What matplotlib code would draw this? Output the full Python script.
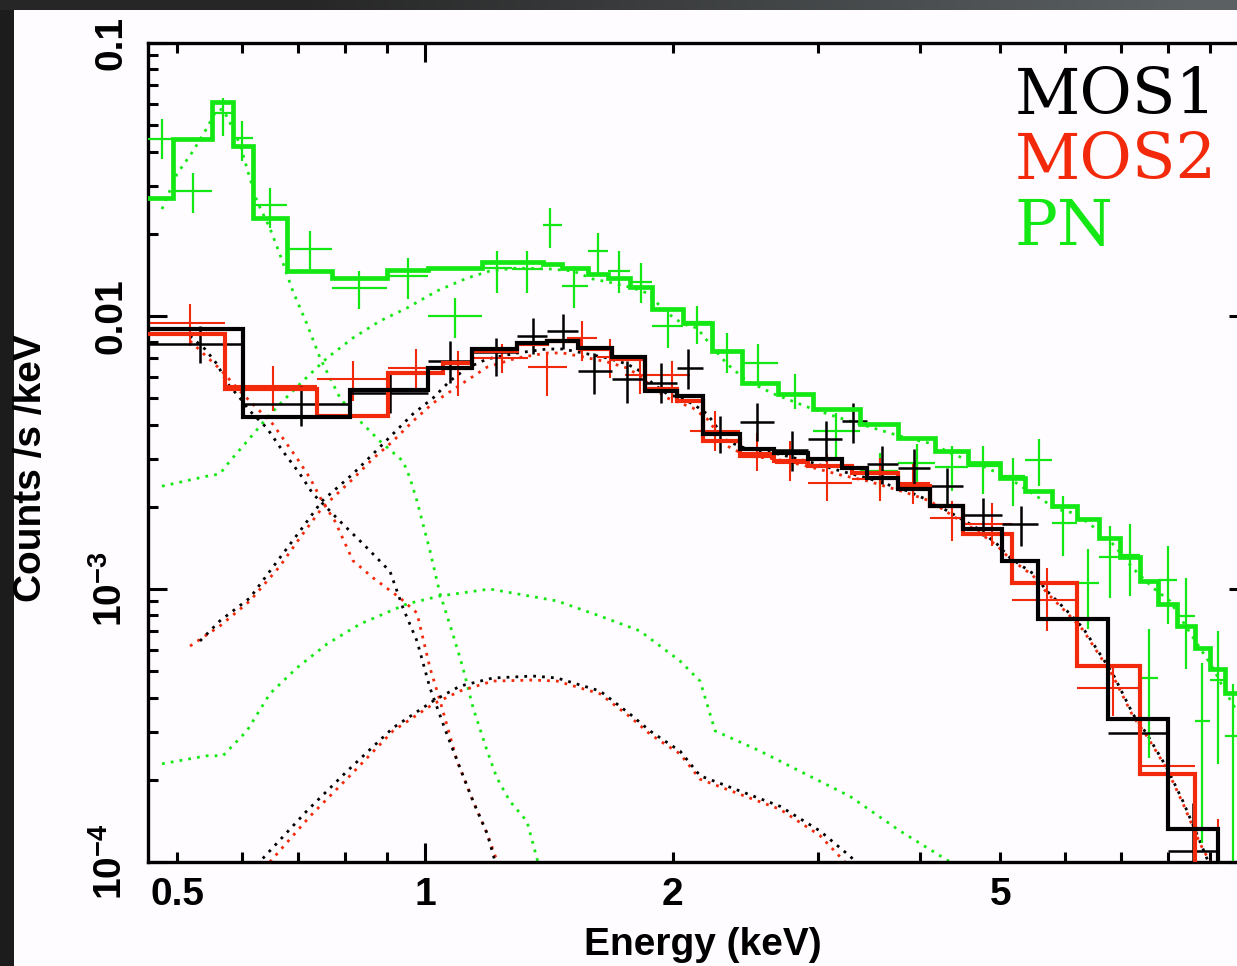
import numpy as np
import matplotlib
matplotlib.use("Agg")
import matplotlib.pyplot as plt
from matplotlib.patches import Rectangle
from matplotlib.ticker import FixedLocator, NullFormatter

plt.rcParams['font.family'] = ['Liberation Sans', 'DejaVu Sans']
plt.rcParams['mathtext.fontset'] = 'custom'
plt.rcParams['mathtext.rm'] = 'Liberation Sans:bold'
plt.rcParams['mathtext.default'] = 'rm'

BLACK = '#000000'
RED = '#f2290b'
GREEN = '#14e814'

# ---------------- MOS1 (black) ----------------
mos1_model_edges = [0.4505, 0.6007, 0.8106, 1.008, 1.141, 1.294, 1.407, 1.534, 1.688, 1.851,
                    2.025, 2.177, 2.414, 2.655, 2.920, 3.211, 3.444, 3.755, 4.108, 4.506,
                    5.025, 5.557, 6.758, 7.993, 9.195, 10.33]
mos1_model = [0.00896, 0.00427, 0.00536, 0.00645, 0.00757, 0.00796, 0.00810, 0.00763, 0.00708,
              0.00531, 0.00509, 0.00370, 0.00326, 0.00315, 0.00300, 0.00277, 0.00255, 0.00232,
              0.00201, 0.00166, 0.00127, 0.000776, 0.000334, 0.000132, 0.0000726]
mos1_elo = [0.4607, 0.6007, 0.8106, 1.008, 1.141, 1.294, 1.407, 1.534, 1.688, 1.851, 2.025, 2.177,
            2.414, 2.655, 2.920, 3.211, 3.444, 3.755, 4.108, 4.506, 5.025, 5.557, 6.758, 7.993]
mos1_ehi = [0.6007, 0.8106, 1.008, 1.141, 1.294, 1.407, 1.534, 1.688, 1.851, 2.025, 2.177, 2.414,
            2.655, 2.920, 3.211, 3.444, 3.755, 4.108, 4.506, 5.025, 5.557, 6.758, 7.993, 9.195]
mos1_e = [0.5328, 0.7067, 0.9067, 1.072, 1.219, 1.353, 1.471, 1.605, 1.760, 1.936, 2.087, 2.283,
          2.532, 2.792, 3.070, 3.312, 3.592, 3.925, 4.309, 4.765, 5.300, 6.181, 7.391, 8.571]
mos1_y = [0.00789, 0.00476, 0.00522, 0.00684, 0.00738, 0.00845, 0.00881, 0.00629, 0.00588, 0.00568,
          0.00645, 0.00370, 0.00409, 0.00323, 0.00354, 0.00412, 0.00287, 0.00277, 0.00238, 0.00187,
          0.00173, 0.000776, 0.000297, 0.000110]
mos1_yhi = [0.00919, 0.00554, 0.00618, 0.00810, 0.00831, 0.00983, 0.01017, 0.00732, 0.00684, 0.00673,
            0.00757, 0.00430, 0.00480, 0.00379, 0.00412, 0.00480, 0.00334, 0.00326, 0.00277, 0.00215,
            0.00201, 0.000904, 0.000379, 0.000164]
mos1_ylo = [0.00673, 0.00396, 0.00441, 0.00568, 0.00603, 0.00726, 0.00757, 0.00518, 0.00480, 0.00480,
            0.00540, 0.00315, 0.00348, 0.00271, 0.00294, 0.00342, 0.00242, 0.00234, 0.00201, 0.00156,
            0.00144, 0.000629, 0.000210, 0.0000726]
mos1_soft_e = [0.5182, 0.5403, 0.5587, 0.5760, 0.5957, 0.6126, 0.6424, 0.6717, 0.7047, 0.7309, 0.7603,
               0.7883, 0.8454, 0.9067, 0.9403, 0.9778, 1.014, 1.063, 1.103, 1.144, 1.190, 1.216, 1.233]
mos1_soft = [0.00845, 0.00757, 0.00667, 0.00564, 0.00501, 0.00449, 0.00389, 0.00320, 0.00264, 0.00223,
             0.00198, 0.00177, 0.00144, 0.00116, 0.000852, 0.000645, 0.000434, 0.000294, 0.000221,
             0.000167, 0.000127, 0.000101, 0.0000859]
mos1_hard_e = [0.5328, 0.5633, 0.6126, 0.6661, 0.7047, 0.7497, 0.8174, 0.8643, 0.9143, 0.9670, 1.023,
               1.072, 1.125, 1.190, 1.294, 1.407, 1.471, 1.556, 1.664, 1.760, 1.825, 1.893, 1.969,
               2.041, 2.117, 2.202, 2.329, 2.462, 2.655, 2.912, 3.193, 3.444, 3.851, 4.108, 4.382,
               4.686, 4.956, 5.139, 5.479, 5.699, 6.027, 6.302, 6.609, 6.854, 7.248, 7.537, 7.971,
               8.335, 8.741, 8.938, 9.116]
mos1_hard = [0.000645, 0.000764, 0.000927, 0.00130, 0.00163, 0.00210, 0.00264, 0.00312, 0.00370,
             0.00438, 0.00501, 0.00578, 0.00645, 0.00696, 0.00732, 0.00757, 0.00757, 0.00732, 0.00702,
             0.00667, 0.00629, 0.00564, 0.00518, 0.00501, 0.00476, 0.00438, 0.00348, 0.00326, 0.00315,
             0.00294, 0.00271, 0.00255, 0.00229, 0.00210, 0.00188, 0.00167, 0.00146, 0.00130, 0.00114,
             0.000983, 0.000831, 0.000720, 0.000578, 0.000488, 0.000348, 0.000294, 0.000221,
             0.000167, 0.000119, 0.000101, 0.0000859]
mos1_third_e = [0.6352, 0.7187, 0.8039, 0.9143, 1.023, 1.103, 1.209, 1.353, 1.447, 1.632, 1.775,
                1.877, 1.958, 2.041, 2.159, 2.414, 2.700, 3.019, 3.284, 3.377]
mos1_third = [0.000103, 0.000154, 0.000215, 0.000310, 0.000389, 0.000441, 0.000472, 0.000480,
              0.000472, 0.000423, 0.000348, 0.000302, 0.000277, 0.000255, 0.000207, 0.000182,
              0.000160, 0.000130, 0.000105, 0.0000967]

# ---------------- MOS2 (red) ----------------
mos2_model_edges = [0.4505, 0.5712, 0.7392, 0.9017, 1.052, 1.141, 1.294, 1.407, 1.543, 1.688, 1.851,
                    2.025, 2.177, 2.414, 2.655, 2.920, 3.303, 3.755, 4.108, 4.506, 5.168, 6.198,
                    7.391, 8.620, 10.33]
mos2_model = [0.00859, 0.00540, 0.00430, 0.00618, 0.00673, 0.00744, 0.00789, 0.00810, 0.00757,
              0.00696, 0.00540, 0.00488, 0.00348, 0.00307, 0.00294, 0.00282, 0.00266, 0.00238,
              0.00201, 0.00159, 0.00105, 0.000522, 0.000210, 0.0000726]
mos2_elo = [0.4633, 0.5712, 0.7392, 0.9017, 1.049, 1.141, 1.334, 1.488, 1.618, 1.750, 1.904, 2.099,
            2.414, 2.663, 2.920, 3.303, 3.755, 4.108, 4.506, 5.168, 6.198, 7.391, 8.620]
mos2_ehi = [0.5712, 0.7392, 0.9017, 1.049, 1.141, 1.334, 1.488, 1.618, 1.750, 1.904, 2.099, 2.414,
            2.663, 2.920, 3.303, 3.755, 4.108, 4.506, 5.168, 6.198, 7.391, 8.620, 9.779]
mos2_e = [0.5182, 0.6532, 0.8174, 0.9751, 1.097, 1.240, 1.407, 1.552, 1.679, 1.825, 1.997, 2.252,
          2.532, 2.777, 3.079, 3.571, 3.915, 4.369, 4.887, 5.699, 6.854, 7.993, 9.195]
mos2_y = [0.00943, 0.00554, 0.00588, 0.00645, 0.00640, 0.00702, 0.00650, 0.00831, 0.00708, 0.00608,
          0.00608, 0.00379, 0.00315, 0.00289, 0.00245, 0.00253, 0.00245, 0.00182, 0.00173, 0.000912,
          0.000434, 0.000225, 0.0000859]
mos2_yhi = [0.01107, 0.00656, 0.00684, 0.00757, 0.00744, 0.00789, 0.00732, 0.00959, 0.00824, 0.00696,
            0.00684, 0.00449, 0.00373, 0.00348, 0.00312, 0.00302, 0.00287, 0.00210, 0.00207, 0.00119,
            0.000531, 0.000277, 0.000144]
mos2_ylo = [0.00777, 0.00449, 0.00488, 0.00540, 0.00509, 0.00618, 0.00509, 0.00684, 0.00593, 0.00518,
            0.00480, 0.00320, 0.00271, 0.00249, 0.00210, 0.00210, 0.00205, 0.00150, 0.00144, 0.000702,
            0.000342, 0.000174, 0.0000472]
mos2_soft_e = [0.5182, 0.5433, 0.5633, 0.5957, 0.6264, 0.6532, 0.6717, 0.6986, 0.7248, 0.7497, 0.7774,
               0.8174, 0.8643, 0.9325, 0.9778, 1.014, 1.043, 1.094, 1.144, 1.190, 1.223, 1.240]
mos2_soft = [0.00810, 0.00708, 0.00640, 0.00531, 0.00456, 0.00402, 0.00357, 0.00302, 0.00255, 0.00210,
             0.00177, 0.00127, 0.00110, 0.000927, 0.000817, 0.000514, 0.000389, 0.000234, 0.000167,
             0.000127, 0.000101, 0.0000859]
mos2_hard_e = [0.5182, 0.5633, 0.6126, 0.6661, 0.7047, 0.7497, 0.8174, 0.8643, 0.9143, 0.9670, 1.023,
               1.103, 1.190, 1.294, 1.407, 1.471, 1.556, 1.664, 1.760, 1.825, 1.893, 1.969, 2.117,
               2.202, 2.329, 2.462, 2.655, 2.912, 3.193, 3.444, 3.851, 4.108, 4.382, 4.686, 4.956,
               5.139, 5.479, 5.699, 6.027, 6.302, 6.609, 6.854, 7.248, 7.537, 7.971, 8.335, 8.741, 8.989]
mos2_hard = [0.000618, 0.000732, 0.000904, 0.00121, 0.00154, 0.00198, 0.00253, 0.00300, 0.00348,
             0.00412, 0.00480, 0.00559, 0.00650, 0.00702, 0.00732, 0.00732, 0.00708, 0.00679, 0.00645,
             0.00603, 0.00545, 0.00501, 0.00460, 0.00420, 0.00334, 0.00307, 0.00300, 0.00282, 0.00262,
             0.00249, 0.00225, 0.00210, 0.00185, 0.00163, 0.00144, 0.00129, 0.00112, 0.000967,
             0.000817, 0.000708, 0.000568, 0.000480, 0.000342, 0.000289, 0.000219, 0.000164,
             0.000117, 0.000100]
mos2_third_e = [0.6478, 0.7248, 0.8106, 0.9143, 1.023, 1.103, 1.209, 1.353, 1.447, 1.632, 1.775,
                1.877, 1.958, 2.041, 2.159, 2.414, 2.700, 3.019, 3.238]
mos2_third = [0.000100, 0.000147, 0.000207, 0.000302, 0.000379, 0.000423, 0.000460, 0.000464,
              0.000460, 0.000413, 0.000340, 0.000294, 0.000270, 0.000249, 0.000201, 0.000177,
              0.000156, 0.000125, 0.000100]

# ---------------- PN (green) ----------------
pn_model_edges = [0.4505, 0.4940, 0.5510, 0.5841, 0.6178, 0.6793, 0.7709, 0.8991, 1.008, 1.173,
                  1.391, 1.467, 1.578, 1.669, 1.775, 1.888, 2.058, 2.233, 2.428, 2.685, 2.961,
                  3.377, 3.755, 4.166, 4.570, 4.997, 5.359, 5.779, 6.198, 6.590, 6.989, 7.391,
                  7.773, 8.196, 8.620, 8.989, 9.378, 9.779, 10.21]
pn_model = [0.02705, 0.04449, 0.06080, 0.04195, 0.02286, 0.01462, 0.01377, 0.01474, 0.01499, 0.01577,
            0.01550, 0.01499, 0.01425, 0.01377, 0.01277, 0.01061, 0.00943, 0.00744, 0.00568, 0.00518,
            0.00456, 0.00402, 0.00357, 0.00320, 0.00289, 0.00255, 0.00229, 0.00201, 0.00180, 0.00154,
            0.00131, 0.00107, 0.000882, 0.000732, 0.000608, 0.000509, 0.000416, 0.000342]
pn_elo = [0.4607, 0.4940, 0.5510, 0.5841, 0.6178, 0.6793, 0.7709, 0.8991, 1.008, 1.173, 1.275, 1.391,
          1.467, 1.578, 1.669, 1.775, 1.888, 2.058, 2.233, 2.428, 2.685, 2.961, 3.377, 3.755, 4.166,
          4.570, 4.997, 5.359, 5.779, 6.198, 6.590, 6.989, 7.391, 7.773, 8.196, 8.620, 8.989, 9.378]
pn_ehi = [0.4940, 0.5510, 0.5841, 0.6178, 0.6793, 0.7709, 0.8991, 1.008, 1.173, 1.275, 1.391, 1.467,
          1.578, 1.669, 1.775, 1.888, 2.058, 2.233, 2.428, 2.685, 2.961, 3.377, 3.755, 4.166, 4.570,
          4.997, 5.359, 5.779, 6.198, 6.590, 6.989, 7.391, 7.773, 8.196, 8.620, 8.989, 9.378, 9.779]
pn_e = [0.4791, 0.5226, 0.5680, 0.5990, 0.6478, 0.7248, 0.8312, 0.9535, 1.087, 1.223, 1.330, 1.419,
        1.517, 1.623, 1.721, 1.830, 1.974, 2.141, 2.329, 2.539, 2.816, 3.158, 3.571, 3.958, 4.369,
        4.765, 5.183, 5.573, 5.960, 6.390, 6.797, 7.188, 7.580, 7.993, 8.405, 8.790, 9.195, 9.589]
pn_y = [0.04449, 0.02870, 0.05540, 0.04487, 0.02550, 0.01759, 0.01266, 0.01401, 0.01000, 0.01499,
        0.01486, 0.02154, 0.01288, 0.01730, 0.01462, 0.01332, 0.00919, 0.00951, 0.00744, 0.00673,
        0.00518, 0.00379, 0.00271, 0.00289, 0.00280, 0.00282, 0.00259, 0.00297, 0.00174, 0.00105,
        0.00131, 0.00133, 0.000472, 0.00108, 0.000796, 0.000328, 0.000464, 0.000289]
pn_yhi = [0.05267, 0.03340, 0.06286, 0.05180, 0.02944, 0.02048, 0.01462, 0.01631, 0.01164, 0.01730,
          0.01730, 0.02487, 0.01524, 0.02014, 0.01730, 0.01563, 0.01070, 0.01088, 0.00866, 0.00789,
          0.00613, 0.00441, 0.00315, 0.00340, 0.00334, 0.00334, 0.00302, 0.00354, 0.00219, 0.00140,
          0.00170, 0.00173, 0.000714, 0.00144, 0.00110, 0.000536, 0.000702, 0.000449]
pn_ylo = [0.03759, 0.02383, 0.04563, 0.03698, 0.02101, 0.01462, 0.01061, 0.01154, 0.00831, 0.01214,
          0.01214, 0.01774, 0.01070, 0.01437, 0.01214, 0.01116, 0.00763, 0.00789, 0.00618, 0.00564,
          0.00456, 0.00300, 0.00225, 0.00242, 0.00229, 0.00223, 0.00201, 0.00238, 0.00132, 0.000714,
          0.000927, 0.000943, 0.000240, 0.000744, 0.000509, 0.000117, 0.000229, 0.000101]
pn_soft_e = [0.4791, 0.4996, 0.5226, 0.5433, 0.5556, 0.5665, 0.5760, 0.5957, 0.6126, 0.6247, 0.6478,
             0.6661, 0.6908, 0.7187, 0.7455, 0.7883, 0.8337, 0.8817, 0.9403, 0.9589, 0.9778, 1.014,
             1.043, 1.081, 1.112, 1.144, 1.190, 1.223, 1.268, 1.330, 1.368, 1.387]
pn_soft = [0.02465, 0.03312, 0.04020, 0.04883, 0.05540, 0.05730, 0.05312, 0.04266, 0.03202, 0.02637,
           0.02101, 0.01687, 0.01235, 0.00935, 0.00702, 0.00501, 0.00412, 0.00348, 0.00294, 0.00255,
           0.00210, 0.00138, 0.000959, 0.000684, 0.000514, 0.000367, 0.000255, 0.000203, 0.000167,
           0.000141, 0.000103, 0.0000859]
pn_hard_e = [0.4791, 0.5433, 0.5633, 0.5793, 0.6126, 0.6424, 0.6717, 0.7107, 0.7603, 0.8174, 0.8817,
             0.9508, 1.034, 1.125, 1.199, 1.294, 1.419, 1.513, 1.600, 1.693, 1.790, 1.861, 1.969,
             2.058, 2.141, 2.239, 2.329, 2.462, 2.655, 2.961, 3.193, 3.502, 3.851, 4.143, 4.345,
             4.765, 5.139, 5.479, 5.861, 6.129, 6.427, 6.854, 7.248, 7.665, 8.038, 8.429, 8.741,
             9.065, 9.378, 9.779]
pn_hard = [0.00238, 0.00259, 0.00264, 0.00294, 0.00357, 0.00423, 0.00488, 0.00578, 0.00702, 0.00831,
           0.00959, 0.01070, 0.01235, 0.01377, 0.01462, 0.01499, 0.01486, 0.01462, 0.01366, 0.01321,
           0.01266, 0.01214, 0.01026, 0.00935, 0.00904, 0.00763, 0.00667, 0.00578, 0.00518, 0.00456,
           0.00423, 0.00389, 0.00357, 0.00340, 0.00315, 0.00282, 0.00253, 0.00223, 0.00196, 0.00190,
           0.00173, 0.00146, 0.00119, 0.00101, 0.000904, 0.000720, 0.000608, 0.000514, 0.000423,
           0.000342]
pn_third_e = [0.4791, 0.5433, 0.5680, 0.6075, 0.6478, 0.6986, 0.7603, 0.8337, 0.9508, 1.043, 1.199,
              1.447, 1.632, 1.825, 2.041, 2.159, 2.252, 2.553, 2.855, 3.284, 3.777, 4.345]
pn_third = [0.000229, 0.000245, 0.000245, 0.000302, 0.000413, 0.000514, 0.000629, 0.000744, 0.000882,
            0.000943, 0.00100, 0.000904, 0.000796, 0.000702, 0.000545, 0.000460, 0.000302, 0.000255,
            0.000215, 0.000174, 0.000130, 0.000100]

legend_labels = ['MOS1', 'MOS2', 'PN']
x_tick_values = [0.5, 1, 2, 5, 10]
x_tick_labels = ['0.5', '1', '2', '5', '']
x_minor_values = [0.6, 0.7, 0.8, 0.9, 3, 4, 6, 7, 8, 9]
y_tick_values = [1e-4, 1e-3, 1e-2, 1e-1]
y_tick_labels = [r'$10^{-4}$', r'$10^{-3}$', '0.01', '0.1']

W, H = 1237, 966
fig = plt.figure(figsize=(W / 100, H / 100), dpi=100)
fig.patch.set_facecolor('#1c1c1c')

# ---- slide-like background ----
bg = fig.add_axes([0, 0, 1, 1])
bg.set_axis_off()
bg.set_xlim(0, W)
bg.set_ylim(H, 0)
bg.add_patch(Rectangle((14, 10), W - 14, H - 10, facecolor='#fefcfe', edgecolor='none'))
xs = np.linspace(0, W, 400)
t = np.clip((xs - 300) / 900.0, 0, 1)
dark = np.array([0.15, 0.15, 0.15])
light = np.array([0.36, 0.38, 0.39])
band = (dark[None, :] * (1 - t[:, None]) + light[None, :] * t[:, None])[None, :, :]
bg.imshow(band, extent=(0, W, 10, 0), aspect='auto', interpolation='bilinear')
sh = np.zeros((40, 400, 4))
fy = np.linspace(1, 0, 40)[:, None] ** 1.6
fx = np.clip((xs - 420) / 180.0, 0, 1)[None, :]
sh[..., 0:3] = 0.55
sh[..., 3] = 0.22 * fy * fx
bg.imshow(sh, extent=(0, W, 42, 10), aspect='auto', interpolation='bilinear')
bg.set_xlim(0, W)
bg.set_ylim(H, 0)

# ---- main axes ----
ax = fig.add_axes([148 / W, 1 - 862 / H, (1248 - 148) / W, (862 - 43) / H])
ax.set_facecolor('#fefcfe')
ax.set_xscale('log')
ax.set_yscale('log')


def draw(elo, ehi, e, y, ylo, yhi, edges, model, comps, color, lw_data, lw_model):
    e = np.asarray(e); y = np.asarray(y)
    xerr = [e - np.asarray(elo), np.asarray(ehi) - e]
    yerr = [y - np.asarray(ylo), np.asarray(yhi) - y]
    ax.errorbar(e, y, xerr=xerr, yerr=yerr, fmt='none', ecolor=color, elinewidth=lw_data,
                capsize=0, zorder=3)
    ax.stairs(model, edges, color=color, lw=lw_model, baseline=None, zorder=4)
    for ce, cv in comps:
        ax.plot(ce, cv, color=color, lw=2.0, linestyle=(0, (1, 2.2)), zorder=2)


draw(pn_elo, pn_ehi, pn_e, pn_y, pn_ylo, pn_yhi, pn_model_edges, pn_model,
     [(pn_soft_e, pn_soft), (pn_hard_e, pn_hard), (pn_third_e, pn_third)], GREEN, 1.6, 3.4)
draw(mos2_elo, mos2_ehi, mos2_e, mos2_y, mos2_ylo, mos2_yhi, mos2_model_edges, mos2_model,
     [(mos2_soft_e, mos2_soft), (mos2_hard_e, mos2_hard), (mos2_third_e, mos2_third)], RED, 1.5, 3.0)
draw(mos1_elo, mos1_ehi, mos1_e, mos1_y, mos1_ylo, mos1_yhi, mos1_model_edges, mos1_model,
     [(mos1_soft_e, mos1_soft), (mos1_hard_e, mos1_hard), (mos1_third_e, mos1_third)], BLACK, 1.8, 3.0)

ax.set_xlim(0.4607, 10.0)
ax.set_ylim(1e-4, 0.1)

for s in ax.spines.values():
    s.set_linewidth(2.4)

ax.xaxis.set_major_locator(FixedLocator(x_tick_values))
ax.set_xticklabels(x_tick_labels)
ax.xaxis.set_minor_locator(FixedLocator(x_minor_values))
ax.xaxis.set_minor_formatter(NullFormatter())
ax.yaxis.set_major_locator(FixedLocator(y_tick_values))
ax.set_yticklabels(y_tick_labels)
ymin = [m * d for d in [1e-4, 1e-3, 1e-2] for m in range(2, 10)]
ax.yaxis.set_minor_locator(FixedLocator(ymin))
ax.yaxis.set_minor_formatter(NullFormatter())

ax.tick_params(which='both', direction='in', top=True, right=True, width=2.2, color='black')
ax.tick_params(which='major', length=13.5)
ax.tick_params(which='minor', length=7.0)
ax.tick_params(axis='x', which='major', pad=11, labelsize=28)
ax.tick_params(axis='y', which='major', pad=13, labelsize=28)
for lab in ax.get_xticklabels():
    lab.set_fontweight('bold')
for lab in ax.get_yticklabels():
    lab.set_fontweight('bold')
    lab.set_rotation(90)
    lab.set_verticalalignment('center')
# 0.5, 2, 5 carry labels but are drawn with the short (minor) tick length
for val, tk in zip(x_tick_values, ax.xaxis.get_major_ticks()):
    if val != 1 and val != 10:
        tk.tick1line.set_markersize(7.0)
        tk.tick2line.set_markersize(7.0)

fig.text(703 / W, 1 - 945 / H, 'Energy (keV)', ha='center', va='center', fontsize=28,
         fontweight='bold')
fig.text(31 / W, 1 - 468 / H, 'Counts /s /keV', ha='center', va='center', rotation=90,
         fontsize=28, fontweight='bold')

for lbl, col, yb in zip(legend_labels, [BLACK, RED, GREEN], [114, 179, 245]):
    fig.text(1015 / W, 1 - yb / H, lbl, color=col, fontsize=46, family='DejaVu Serif',
             ha='left', va='baseline')

fig.savefig('out.png', dpi=100, facecolor=fig.get_facecolor())
